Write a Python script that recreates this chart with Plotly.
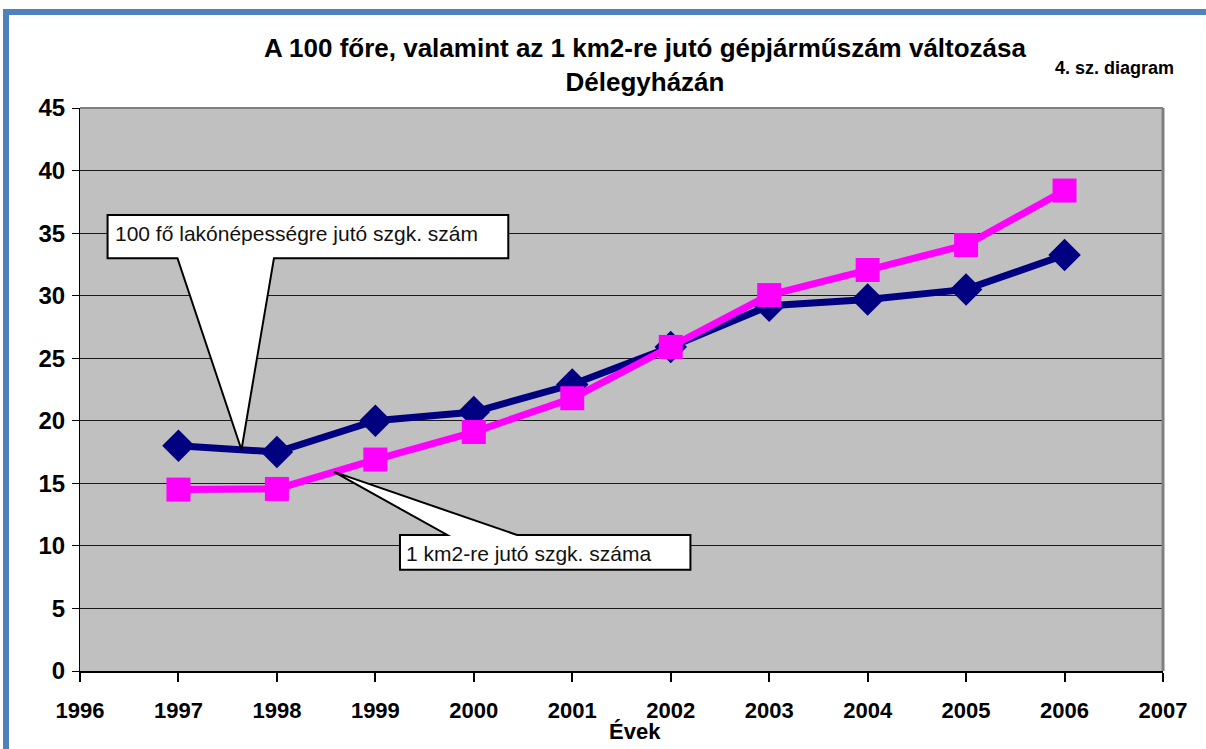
import numpy as np
import plotly.graph_objects as go

years = [1997, 1998, 1999, 2000, 2001, 2002, 2003, 2004, 2005, 2006]
per_100 = [18.0, 17.5, 20.0, 20.7, 22.9, 25.9, 29.2, 29.7, 30.5, 33.25]
per_km2 = [14.5, 14.55, 16.9, 19.1, 21.8, 25.9, 30.05, 32.05, 34.05, 38.4]
x_ticks = list(range(1996, 2008))
y_ticks = list(range(0, 50, 5))

title_text = "A 100 főre, valamint az 1 km2-re jutó gépjárműszám változása<br>Délegyházán"
diagram_label = "4. sz. diagram"
callout1_text = "100 fő lakónépességre jutó szgk. szám"
callout2_text = "1 km2-re jutó szgk. száma"
x_title = "Évek"

W, H = 1206, 749
L, R, T, B = 80, 43, 108, 78
FONT = "Liberation Sans, Arial, sans-serif"

fig = go.Figure()
fig.add_trace(go.Scatter(
    x=years, y=per_100, mode="lines+markers", name="100 fő",
    line=dict(color="#000080", width=7),
    marker=dict(symbol="diamond", size=25, color="#000080"),
    hoverinfo="x+y"))
fig.add_trace(go.Scatter(
    x=years, y=per_km2, mode="lines+markers", name="1 km2",
    line=dict(color="#FF00FF", width=7),
    marker=dict(symbol="square", size=24, color="#FF00FF"),
    hoverinfo="x+y"))

# callout tips located on the series lines
tip1_x = 1997.64
tip1_y = float(np.interp(tip1_x, years, per_100))
tip2_x = 1998.58
tip2_y = float(np.interp(tip2_x, years, per_km2))

# callout 1 (box above, wedge downward)
b1 = dict(x0=1996.28, x1=2000.35, y0=33.0, y1=36.45, wl=1996.99, wr=1997.97)
path1 = (f"M {b1['x0']},{b1['y1']} L {b1['x1']},{b1['y1']} L {b1['x1']},{b1['y0']} "
         f"L {b1['wr']},{b1['y0']} L {tip1_x},{tip1_y} L {b1['wl']},{b1['y0']} "
         f"L {b1['x0']},{b1['y0']} Z")
# callout 2 (box below, wedge upward)
b2 = dict(x0=1999.25, x1=2002.2, y0=8.1, y1=10.87, wl=1999.73, wr=2000.44)
path2 = (f"M {b2['x0']},{b2['y1']} L {b2['wl']},{b2['y1']} L {tip2_x},{tip2_y} "
         f"L {b2['wr']},{b2['y1']} L {b2['x1']},{b2['y1']} L {b2['x1']},{b2['y0']} "
         f"L {b2['x0']},{b2['y0']} Z")

shapes = [
    dict(type="path", path=path1, xref="x", yref="y", fillcolor="white",
         line=dict(color="black", width=2), layer="above"),
    dict(type="path", path=path2, xref="x", yref="y", fillcolor="white",
         line=dict(color="black", width=2), layer="above"),
]

# page pixel -> paper coordinates
def px_x(p):
    return (p - L) / (W - L - R)

def px_y(p):
    return (H - B - p) / (H - T - B)

# blue frame
shapes.append(dict(type="line", xref="paper", yref="paper",
                   x0=px_x(6), x1=px_x(6), y0=px_y(10), y1=px_y(760),
                   line=dict(color="#4F81BD", width=6), layer="above"))
shapes.append(dict(type="line", xref="paper", yref="paper",
                   x0=px_x(3), x1=px_x(1210), y0=px_y(12), y1=px_y(12),
                   line=dict(color="#4F81BD", width=6), layer="above"))
# plot border (gray)
shapes.append(dict(type="line", xref="paper", yref="paper",
                   x0=1, x1=1, y0=0, y1=1,
                   line=dict(color="#808080", width=3), layer="above"))
shapes.append(dict(type="line", xref="paper", yref="paper",
                   x0=0, x1=1, y0=1, y1=1,
                   line=dict(color="#808080", width=2), layer="below"))

annotations = [
    dict(x=b1['x0'] + 0.06, y=px_y(233), xref="x", yref="paper",
         text=callout1_text, showarrow=False, xanchor="left", yanchor="middle",
         font=dict(family=FONT, size=21, color="#111111")),
    dict(x=b2['x0'] + 0.04, y=px_y(553), xref="x", yref="paper",
         text=callout2_text, showarrow=False, xanchor="left", yanchor="middle",
         font=dict(family=FONT, size=21, color="#111111")),
    dict(x=px_x(645), y=px_y(65), xref="paper", yref="paper", text="<b>" + title_text + "</b>",
         showarrow=False, xanchor="center", yanchor="middle",
         font=dict(family=FONT, size=26, color="black")),
    dict(x=px_x(1114), y=px_y(68), xref="paper", yref="paper", text="<b>" + diagram_label + "</b>",
         showarrow=False, xanchor="center", yanchor="middle",
         font=dict(family=FONT, size=18, color="black")),
    dict(x=px_x(635), y=px_y(731), xref="paper", yref="paper", text="<b>" + x_title + "</b>",
         showarrow=False, xanchor="center", yanchor="middle",
         font=dict(family=FONT, size=22, color="black")),
]

fig.update_layout(
    width=W, height=H,
    margin=dict(l=L, r=R, t=T, b=B, autoexpand=False),
    paper_bgcolor="white", plot_bgcolor="#C0C0C0",
    showlegend=False,
    shapes=shapes, annotations=annotations,
    xaxis=dict(range=[1996, 2007], tickvals=x_ticks,
               ticktext=["<b>%d</b>" % v for v in x_ticks],
               showgrid=False, zeroline=False, showline=True, linecolor="black", linewidth=2,
               ticks="outside", ticklen=9, tickwidth=2, tickcolor="black",
               tickfont=dict(family=FONT, size=22, color="black"),
               ticklabelstandoff=10),
    yaxis=dict(range=[0, 45], tickvals=y_ticks, ticktext=["<b>%d</b>" % v for v in y_ticks],
               showgrid=True, gridcolor="#1a1a1a", gridwidth=1, zeroline=False,
               showline=True, linecolor="black", linewidth=1,
               ticks="outside", ticklen=7, tickwidth=1, tickcolor="black",
               tickfont=dict(family=FONT, size=24, color="black"),
               ticklabelstandoff=2),
)

fig.write_html("out.html", config={"displayModeBar": False},
               post_script="document.body.style.margin='0';")
